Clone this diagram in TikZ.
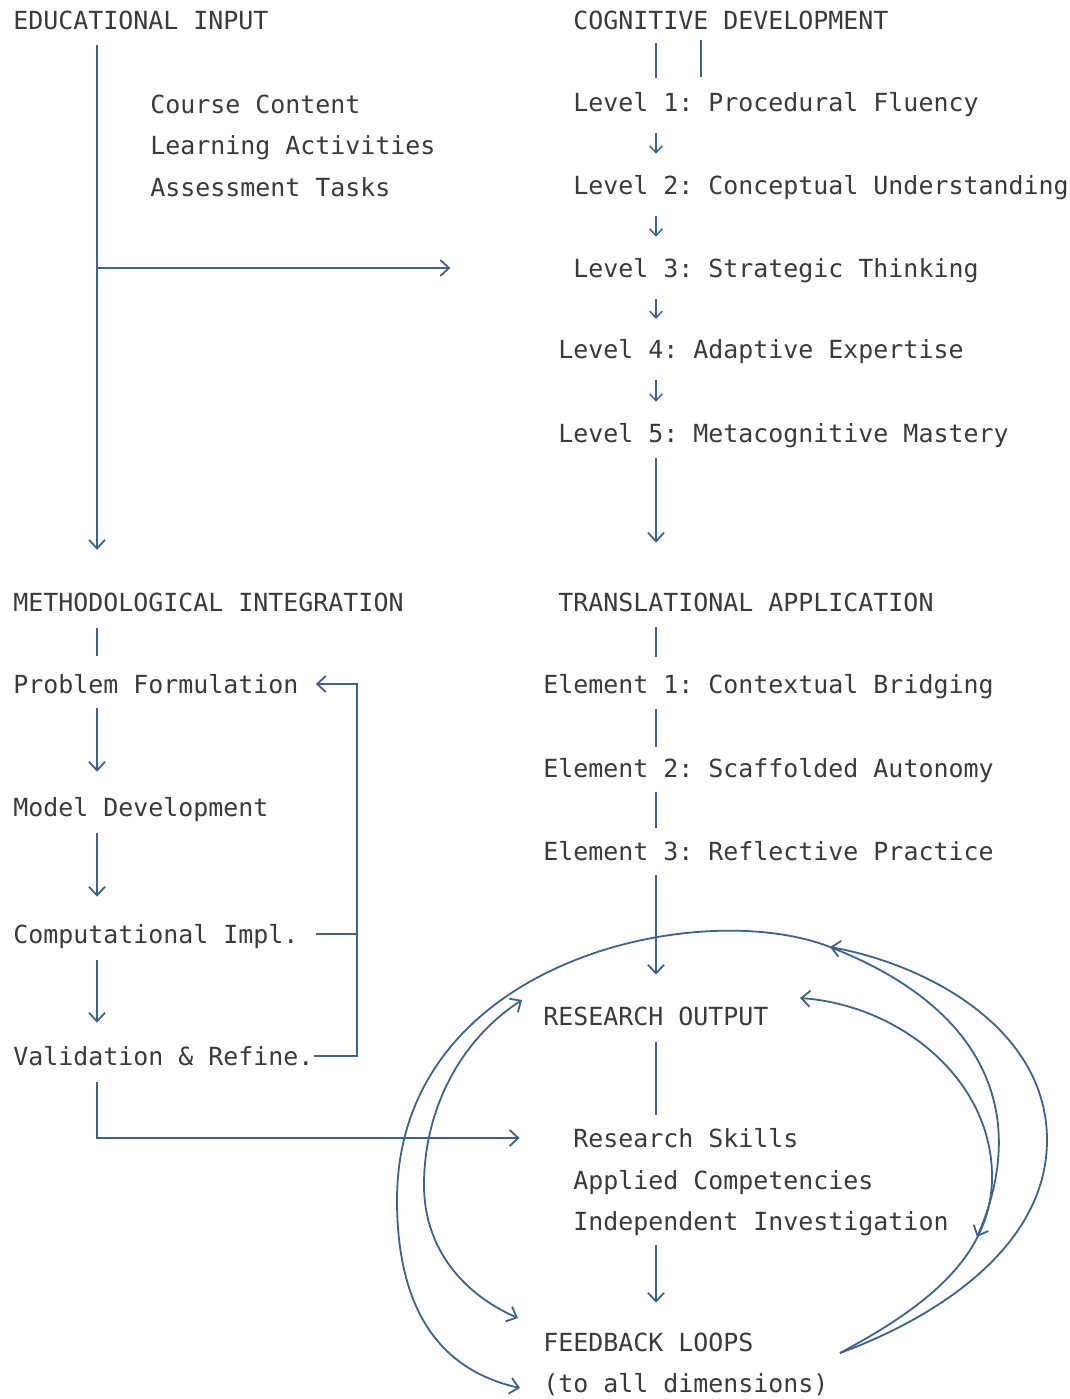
\documentclass[tikz,border=0pt]{standalone}
\usepackage{fontspec}
\setmonofont{DejaVu Sans Mono}
\usetikzlibrary{arrows.meta}
\definecolor{ink}{RGB}{58,58,58}
\definecolor{wire}{RGB}{62,98,138}
\begin{document}
\begin{tikzpicture}[x=0.75pt,y=-0.75pt,
  txt/.style={anchor=west, inner sep=0pt, text=ink,
    font=\ttfamily\fontsize{18.7}{22}\selectfont,
    text height=16.25pt, text depth=2.45pt},
  wireline/.style={draw=wire, line width=1.35pt},
  tip/.tip={Straight Barb[length=6.5pt,width=12pt,line width=1.35pt]},
  smalltip/.tip={Straight Barb[length=5pt,width=9.5pt,line width=1.1pt]},
  arr/.style={wireline, -tip},
  minor/.style={wireline, line width=1.1pt, -smalltip},
  biarr/.style={wireline, tip-tip},
  flow/.style={wireline, line width=1.2pt}]
\useasboundingbox (0,0) rectangle (1070,1399);

% spines for the vertical connectors
\coordinate (lp) at (97,0);
\coordinate (sp) at (656,0);
\coordinate (sp2) at (701,0);
\coordinate (fbx) at (357,0);

% ---- Educational input ----
\node[txt] (ei) at (13,20) {EDUCATIONAL INPUT};
\node[txt] (cc) at (150,104) {Course Content};
\node[txt] (la) at (150,145) {Learning Activities};
\node[txt] (at) at (150,187) {Assessment Tasks};

% ---- Cognitive development ----
\node[txt] (cd) at (573,20) {COGNITIVE DEVELOPMENT};
\node[txt] (l1) at (573,102) {Level 1: Procedural Fluency};
\node[txt] (l2) at (573,185) {Level 2: Conceptual Understanding};
\node[txt] (l3) at (573,268) {Level 3: Strategic Thinking};
\node[txt] (l4) at (558,349) {Level 4: Adaptive Expertise};
\node[txt] (l5) at (558,433) {Level 5: Metacognitive Mastery};

% ---- Methodological integration ----
\node[txt] (mi) at (13,602) {METHODOLOGICAL INTEGRATION};
\node[txt] (pf) at (13,684) {Problem Formulation};
\node[txt] (md) at (13,807) {Model Development};
\node[txt] (ci) at (13,934) {Computational Impl.};
\node[txt] (vr) at (13,1056) {Validation \& Refine.};

% ---- Translational application ----
\node[txt] (ta) at (558,602) {TRANSLATIONAL APPLICATION};
\node[txt] (e1) at (543,684) {Element 1: Contextual Bridging};
\node[txt] (e2) at (543,768) {Element 2: Scaffolded Autonomy};
\node[txt] (e3) at (543,851) {Element 3: Reflective Practice};

% ---- Research output ----
\node[txt] (ro) at (543,1016) {RESEARCH OUTPUT};
\node[txt] (rs) at (573,1138) {Research Skills};
\node[txt] (ac) at (573,1180) {Applied Competencies};
\node[txt] (ii) at (573,1221) {Independent Investigation};
\node[txt] (fl) at (543,1342) {FEEDBACK LOOPS};
\node[txt] (tad) at (543,1383) {(to all dimensions)};

% ---- left column connectors ----
\draw[arr, shorten <=9.4pt, shorten >=29.6pt] (ei.south -| lp) -- (mi.north -| lp);
\coordinate (br) at (97,268);
\draw[arr, shorten >=92pt] (br) -- (br -| l3.west);
\draw[flow, shorten <=10pt, shorten >=11.6pt] (mi.south -| lp) -- (pf.north -| lp);
\draw[arr, shorten <=8.6pt, shorten >=16.9pt] (pf.south -| lp) -- (md.north -| lp);
\draw[arr, shorten <=10pt, shorten >=18.4pt] (md.south -| lp) -- (ci.north -| lp);
\draw[arr, shorten <=10pt, shorten >=15.4pt] (ci.south -| lp) -- (vr.north -| lp);
% refinement loop
\draw[arr, shorten >=12.8pt] (vr.east) -- (vr.east -| fbx) |- (pf.east);
\draw[flow, shorten <=12.8pt] (ci.east) -- (ci.east -| fbx);
% validation feeds research skills
\draw[arr, shorten <=10pt, shorten >=40pt] (vr.south -| lp) |- (rs.west);

% ---- right column connectors ----
\draw[flow, shorten <=8pt, shorten >=8.6pt] (cd.south -| sp) -- (l1.north -| sp);
\draw[flow, shorten <=5.6pt, shorten >=9.4pt] (cd.south -| sp2) -- (l1.north -| sp2);
\draw[minor, shorten <=14pt, shorten >=14pt] (l1.south -| sp) -- (l2.north -| sp);
\draw[minor, shorten <=14pt, shorten >=14pt] (l2.south -| sp) -- (l3.north -| sp);
\draw[minor, shorten <=14pt, shorten >=13pt] (l3.south -| sp) -- (l4.north -| sp);
\draw[minor, shorten <=14pt, shorten >=14pt] (l4.south -| sp) -- (l5.north -| sp);
\draw[arr, shorten <=9.4pt, shorten >=35pt] (l5.south -| sp) -- (ta.north -| sp);
\draw[flow, shorten <=9.4pt, shorten >=10.9pt] (ta.south -| sp) -- (e1.north -| sp);
\draw[flow, shorten <=9.4pt, shorten >=6.4pt] (e1.south -| sp) -- (e2.north -| sp);
\draw[flow, shorten <=8.6pt, shorten >=7.9pt] (e2.south -| sp) -- (e3.north -| sp);
\draw[arr, shorten <=8.6pt, shorten >=21.4pt] (e3.south -| sp) -- (ro.north -| sp);
\draw[flow, shorten <=10pt, shorten >=7.9pt] (ro.south -| sp) -- (rs.north -| sp);
\draw[arr, shorten <=8.6pt, shorten >=19.9pt] (ii.south -| sp) -- (fl.north -| sp);

% ---- feedback loops ----
\coordinate (fbR) at (840,1353);
\coordinate (topA) at (830,947);
\coordinate (roR) at (800,998);
\coordinate (midT) at (977,1237);
\coordinate (roL) at (522,1000);
\coordinate (flL) at (518,1318);
\coordinate (tadL) at (520,1388);

% large sweep from the right side over the top down to the last line
\draw[biarr] (midT) .. controls (1028,1120) and (992,1010) .. (topA)
  .. controls (700,896) and (397,960) .. (397,1200)
  .. controls (397,1310) and (440,1370) .. (tadL);
% inner left arc between research output and feedback loops
\draw[biarr] (roL) .. controls (460,1040) and (424,1110) .. (424,1185)
  .. controls (424,1250) and (465,1295) .. (flL);
% outer right return
\draw[arr] (fbR) .. controls (930,1320) and (1047,1250) .. (1047,1140)
  .. controls (1047,1030) and (930,965) .. (topA);
% inner right return
\draw[arr] (fbR) .. controls (920,1310) and (990,1260) .. (992,1180)
  .. controls (994,1080) and (900,1005) .. (roR);
\end{tikzpicture}
\end{document}
